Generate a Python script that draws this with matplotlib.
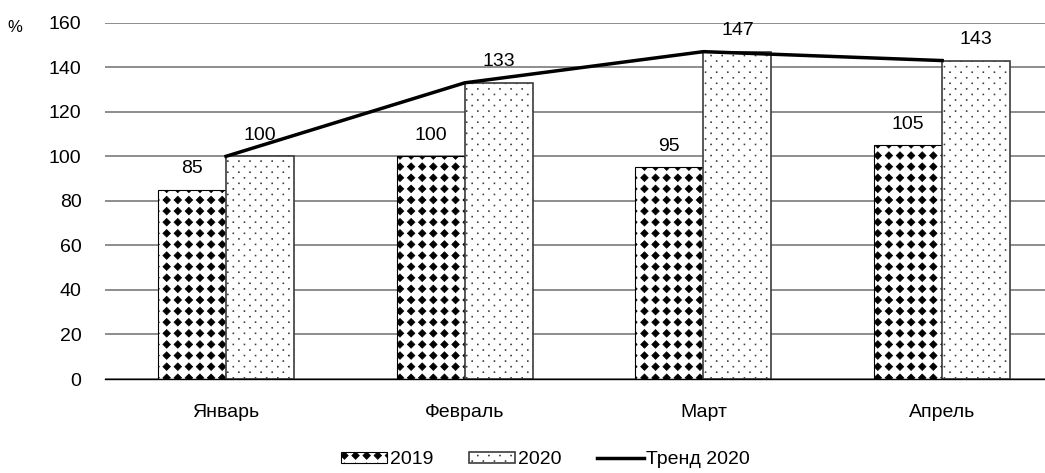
import numpy as np
import matplotlib
matplotlib.use('Agg')
import matplotlib.pyplot as plt
import matplotlib.hatch as mhatch
from matplotlib.path import Path

##############
### Data ###
##############

months = ['Январь', 'Февраль', 'Март', 'Апрель']
values_2019 = [85, 100, 95, 105]
values_2020 = [100, 133, 147, 143]
trend_2020 = [100, 133, 147, 143]
y_ticks = [0, 20, 40, 60, 80, 100, 120, 140, 160]

###########################
### Custom hatch fills ###
###########################

class GridHatch(mhatch.HatchPatternBase):
    """Filled small shapes laid on a grid inside the hatch unit cell."""
    char = None
    ncols = 9
    nrows = 9
    stagger = False

    def __init__(self, hatch, density):
        self.centers = []
        if self.char in hatch:
            for j in range(self.nrows + 1):
                shift = (0.5 / self.ncols) if (self.stagger and j % 2) else 0.0
                for i in range(self.ncols + 1):
                    self.centers.append((i / self.ncols + shift, j / self.nrows))
        self.num_vertices = len(self.centers) * len(self.shape_vertices)

    def set_vertices_and_codes(self, vertices, codes):
        k = len(self.shape_vertices)
        for idx, (cx, cy) in enumerate(self.centers):
            vertices[idx * k:(idx + 1) * k] = self.shape_vertices + (cx, cy)
            codes[idx * k:(idx + 1) * k] = self.shape_codes


class DiamondHatch(GridHatch):
    char = '*'
    ncols = 9
    nrows = 9
    _p = Path.unit_regular_polygon(4)
    shape_vertices = _p.vertices * 0.038
    shape_codes = _p.codes


class DotHatch(GridHatch):
    char = '.'
    ncols = 9
    nrows = 18
    stagger = True
    _h = 0.0045
    shape_vertices = np.array([[-_h, -_h], [_h, -_h], [_h, _h], [-_h, _h], [-_h, -_h]])
    shape_codes = np.array([Path.MOVETO, Path.LINETO, Path.LINETO, Path.LINETO, Path.CLOSEPOLY],
                           dtype=Path.code_type)


mhatch._hatch_types[:] = [h for h in mhatch._hatch_types
                          if h not in (mhatch.Stars, mhatch.SmallFilledCircles)] + [DiamondHatch, DotHatch]

################
### Plotting ###
################

plt.rcParams['font.family'] = ['Liberation Sans', 'DejaVu Sans']
plt.rcParams['font.size'] = 14
plt.rcParams['hatch.linewidth'] = 0.5

fig = plt.figure(figsize=(10.45, 4.73), dpi=100)
ax = fig.add_axes([0.1005, 0.1987, 0.8995, 0.7533])

x = np.arange(len(months))
w = 0.285

b19 = ax.bar(x - w / 2, values_2019, w, facecolor='white', edgecolor='black',
             linewidth=0.8, hatch='*', label='2019', zorder=2)
b20 = ax.bar(x + w / 2, values_2020, w, facecolor='white', edgecolor='#3c3c3c',
             linewidth=1.2, hatch='.', label='2020', zorder=2)
line, = ax.plot(x, trend_2020, color='black', linewidth=2.5, label='Тренд 2020', zorder=3)

for xi, v in zip(x - w / 2, values_2019):
    ax.annotate(str(v), (xi, v), xytext=(0, 12), textcoords='offset points',
                ha='center', va='baseline')
for xi, v in zip(x + w / 2, values_2020):
    ax.annotate(str(v), (xi, v), xytext=(0, 12), textcoords='offset points',
                ha='center', va='baseline')

ax.set_xlim(-0.507, 3.431)
ax.set_ylim(0, 160)
ax.set_yticks(y_ticks)
ax.set_xticks(x)
ax.set_xticklabels(months)
ax.tick_params(axis='both', length=0)
ax.tick_params(axis='y', pad=17)
ax.tick_params(axis='x', pad=18)

ax.set_axisbelow(True)
ax.yaxis.grid(True, color='#7a7a7a', linewidth=1.2)
for side in ['left', 'right', 'top']:
    ax.spines[side].set_visible(False)
ax.spines['bottom'].set_color('black')
ax.spines['bottom'].set_linewidth(1.0)

fig.text(15 / 1045, 1 - 27 / 473, '%', ha='center', va='center', fontsize=12)

fig.legend(handles=[b19, b20, line], loc='center', bbox_to_anchor=(0.522, 0.028),
           ncol=3, frameon=False, handlelength=2.4, handleheight=0.5,
           handletextpad=0.15, columnspacing=1.8, borderaxespad=0, borderpad=0)

fig.savefig('out.png', dpi=100)
plt.close(fig)
